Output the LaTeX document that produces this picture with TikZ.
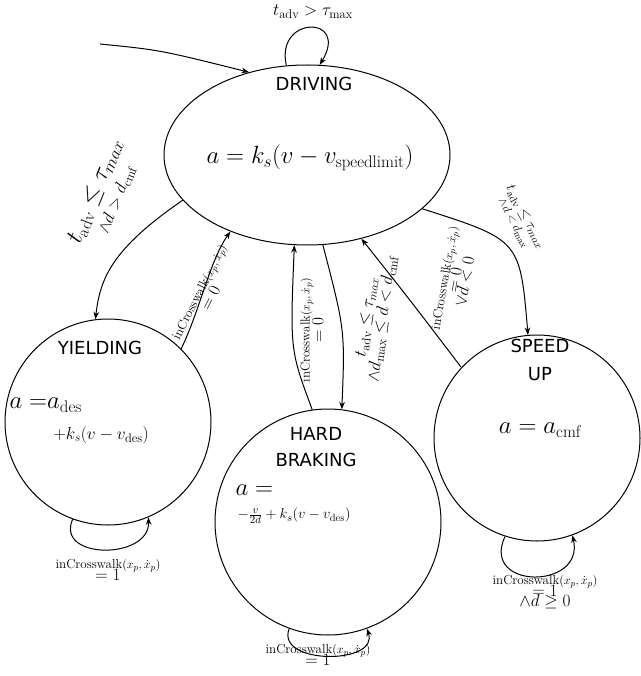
\documentclass[tikz,border=0pt]{standalone}
\usepackage{fontspec}
\newfontfamily\lab{DejaVu Sans}
\usetikzlibrary{arrows.meta,shapes.geometric}
\newcommand{\fsA}{\fontsize{18}{21}\selectfont}
\newcommand{\fsB}{\fontsize{24}{28}\selectfont}
\newcommand{\fsC}{\fontsize{13}{14}\selectfont}
\newcommand{\fsD}{\fontsize{18}{19}\selectfont}
\newcommand{\fsE}{\fontsize{15}{16}\selectfont}
\begin{document}
\begin{tikzpicture}[x=1pt,y=-1pt,>=Stealth,
  st/.style={draw,line width=1pt},
  ed/.style={->,line width=1pt},
  tx/.style={font=\lab\fsA,inner sep=1pt}]
\useasboundingbox (0,0) rectangle (640,676);
\node[st,ellipse,minimum width=286pt,minimum height=180pt] (drv) at (307,155) {};
\node[st,circle,minimum size=206pt] (yld) at (108,422) {};
\node[st,circle,minimum size=226pt] (hb) at (328,522) {};
\node[st,circle,minimum size=206pt] (spd) at (537,438) {};
\node[tx] (drvt) at (314,84) {DRIVING};
\node[font=\fsB] (drvm) at (310,158) {$a=k_s(v-v_{\mathrm{speedlimit}})$};
\node[tx] (yldt) at (100,348) {YIELDING};
\node[font=\fsB,anchor=west] (yldm1) at (6,405) {$a=$$a_{\mathrm{des}}$};
\node[font=\fsD,anchor=west] (yldm2) at (50,435) {$+k_s(v-v_{\mathrm{des}})$};
\node[tx] (hbt1) at (316,434) {HARD};
\node[tx] (hbt2) at (316,460) {BRAKING};
\node[font=\fsB,anchor=west] (hbm1) at (232,490) {$a=$};
\node[font=\fsE,anchor=west] (hbm2) at (234,516) {$-\frac{v}{2d}+k_s(v-v_{\mathrm{des}})$};
\node[tx] (spt1) at (540,346) {SPEED};
\node[tx] (spt2) at (540,374) {UP};
\node[font=\fsB] (spm) at (540,430) {$a=a_{\mathrm{cmf}}$};
\coordinate (init) at (100,44);
\draw[ed] (init) .. controls (160,50) .. (drv.125);
\draw[ed] (drv.103) .. controls (275,15) and (350,15) .. (drv.82);
\node[font=\fsD] (l0) at (313,12) {$t_{\mathrm{adv}}>\tau_{\max}$};
\draw[ed] (drv.200) .. controls (110,250) and (100,280) .. (yld.97);
\node[rotate=68,align=center,font=\fsB] (l1) at (105,195) {$t_{\mathrm{adv}}\leq\tau_{max}$\\[-6pt]\fsD$\wedge d>d_{\mathrm{cmf}}$};
\draw[ed] (yld.45) .. controls (200,310) and (210,260) .. (drv.225);
\node[rotate=63,align=center,font=\fsC] (l2) at (205,295) {inCrosswalk$(x_p,\dot x_p)$\\[-2pt]\fsD$=0$};
\draw[ed] (hb.98) .. controls (290,350) .. (drv.262);
\node[rotate=90,align=center,font=\fsC] (l3) at (312,330) {inCrosswalk$(x_p,\dot x_p)$\\[-2pt]\fsD$=0$};
\draw[ed] (drv.280) .. controls (345,330) .. (hb.83);
\node[rotate=82,align=center,font=\fsD] (l4) at (375,318) {$t_{\mathrm{adv}}\leq\tau_{max}$\\[-3pt]$\wedge d_{\max}\leq d<d_{\mathrm{cmf}}$};
\draw[ed] (spd.137) .. controls (410,300) .. (drv.303);
\node[rotate=80,align=center,font=\fsC] (l5) at (455,280) {inCrosswalk$(x_p,\dot x_p)$\\[-4pt]\fsD$=0$\\[-4pt]\fsD$\vee d<0$};
\draw[ed] (drv.335) .. controls (520,240) .. (spd.95);
\node[rotate=-62,align=center,font=\fsE] (l6) at (520,220) {$t_{\mathrm{adv}}\leq\tau_{max}$\\[-3pt]\fsC$\wedge d<d_{\max}$};
\draw[ed] (yld.250) .. controls (55,560) and (150,560) .. (yld.293);
\node[align=center,font=\fsC] (l7) at (108,570) {inCrosswalk$(x_p,\dot x_p)$\\[-3pt]\fsD$=1$};
\draw[ed] (hb.250) .. controls (275,665) and (380,665) .. (hb.290);
\node[align=center,font=\fsC] (l8) at (318,655) {inCrosswalk$(x_p,\dot x_p)$\\[-3pt]\fsD$=1$};
\draw[ed] (spd.252) .. controls (480,590) and (585,590) .. (spd.290);
\node[align=center,font=\fsC] (l9) at (545,592) {inCrosswalk$(x_p,\dot x_p)$\\[-4pt]\fsD$=1$\\[-4pt]\fsD$\wedge d\geq 0$};
\end{tikzpicture}
\end{document}
